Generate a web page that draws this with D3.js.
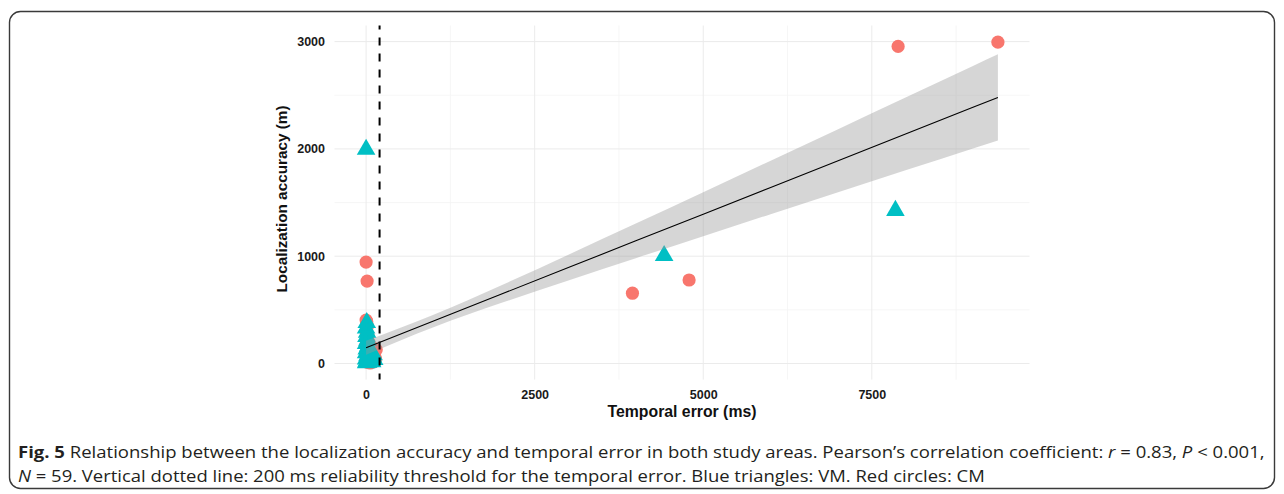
<!DOCTYPE html>
<html>
<head>
<meta charset="utf-8">
<script src="https://cdn.jsdelivr.net/npm/d3@7"></script>
<style>
  html, body { margin: 0; padding: 0; background: #ffffff; }
  svg { display: block; }
</style>
</head>
<body>
<script>
// ---------------- DATA ----------------
// Red circles: CM  [temporal error (ms), localization accuracy (m)]
const cmTemporal = [7890, 9370, 3950, 4790, 0, 15,
  0, 10, 20, 0, 30, 5, 40, 0, 60, 150, 120, 80, 10, 50, 100, 0, 30, 140, 70, 0, 20, 110, 60, 130, 90, 40];
const cmAccuracy = [2955, 2995, 655, 778, 945, 768,
  405, 390, 350, 300, 260, 230, 200, 170, 150, 128, 140, 110, 95, 80, 70, 55, 45, 40, 30, 20, 10, 15, 5, 60, 100, 25];
// Blue triangles: VM
const vmTemporal = [0, 4420, 7850,
  10, 0, 15, 5, 20, 0, 30, 10, 50, 0, 70, 20, 100, 40, 0, 120, 60, 10, 90, 30, 0, 80, 110, 45];
const vmAccuracy = [1995, 1005, 1425,
  380, 330, 290, 250, 215, 185, 160, 135, 115, 100, 85, 70, 60, 50, 40, 35, 25, 20, 15, 10, 5, 45, 80, 95];

// Linear fit with 95% confidence band
const fitTemporal = [0, 1000, 2000, 3000, 4000, 5000, 6000, 7000, 8000, 9000, 9370];
const fitValue    = [147, 396, 645, 894, 1143, 1392, 1641, 1890, 2139, 2388, 2480];
const fitLower    = [82, 338, 563, 774, 982, 1187, 1392, 1596, 1800, 2003, 2079];
const fitUpper    = [212, 454, 727, 1014, 1304, 1597, 1890, 2184, 2478, 2773, 2881];

const thresholdMs = 200;

const xTicks = [0, 2500, 5000, 7500];
const xMinorTicks = [1250, 3750, 6250, 8750];
const yTicks = [0, 1000, 2000, 3000];
const yMinorTicks = [500, 1500, 2500];

const xTitle = "Temporal error (ms)";
const yTitle = "Localization accuracy (m)";

// ---------------- CHART ----------------
const W = 1284, H = 494;
const svg = d3.select("body").append("svg").attr("width", W).attr("height", H);

svg.append("rect").attr("x", 0).attr("y", 0).attr("width", W).attr("height", H).attr("fill", "#fff");
// rounded frame
svg.append("rect").attr("x", 9.5).attr("y", 11.5).attr("width", 1265).attr("height", 477)
  .attr("rx", 11).attr("ry", 11).attr("fill", "none").attr("stroke", "#3a3a3a").attr("stroke-width", 1.4);

const panel = {left: 334.5, right: 1029.5, top: 25.5, bottom: 379.6};
const x = d3.scaleLinear().domain([-468.5, 9838.5]).range([panel.left, panel.right]);
const y = d3.scaleLinear().domain([-150, 3150]).range([panel.bottom, panel.top]);

const g = svg.append("g");

// minor grid
g.selectAll(".xminor").data(xMinorTicks).join("line")
  .attr("x1", d => x(d)).attr("x2", d => x(d)).attr("y1", panel.top).attr("y2", panel.bottom)
  .attr("stroke", "#f4f4f4").attr("stroke-width", 0.8);
g.selectAll(".yminor").data(yMinorTicks).join("line")
  .attr("y1", d => y(d)).attr("y2", d => y(d)).attr("x1", panel.left).attr("x2", panel.right)
  .attr("stroke", "#f4f4f4").attr("stroke-width", 0.8);
// major grid
g.selectAll(".xmajor").data(xTicks).join("line")
  .attr("x1", d => x(d)).attr("x2", d => x(d)).attr("y1", panel.top).attr("y2", panel.bottom)
  .attr("stroke", "#ebebeb").attr("stroke-width", 1);
g.selectAll(".ymajor").data(yTicks).join("line")
  .attr("y1", d => y(d)).attr("y2", d => y(d)).attr("x1", panel.left).attr("x2", panel.right)
  .attr("stroke", "#ebebeb").attr("stroke-width", 1);

// axes via d3 axis generators (domain & ticks hidden, labels only)
const fontAxis = "'Liberation Sans', Arial, Helvetica, sans-serif";
const xAxis = svg.append("g").attr("transform", `translate(0,${panel.bottom})`)
  .call(d3.axisBottom(x).tickValues(xTicks).tickSize(0).tickPadding(10.5).tickFormat(d3.format("d")));
const yAxis = svg.append("g").attr("transform", `translate(${panel.left},0)`)
  .call(d3.axisLeft(y).tickValues(yTicks).tickSize(0).tickPadding(9.5).tickFormat(d3.format("d")));
[xAxis, yAxis].forEach(a => {
  a.select(".domain").remove();
  a.selectAll("text").attr("font-family", fontAxis).attr("font-weight", "bold")
    .attr("font-size", "12.5px").attr("fill", "#1a1a1a");
});

// axis titles
svg.append("text").attr("x", x(4685)).attr("y", 416.5).attr("text-anchor", "middle")
  .attr("font-family", fontAxis).attr("font-weight", "bold").attr("font-size", "15.8px").attr("fill", "#111")
  .text(xTitle);
svg.append("text").attr("transform", `translate(286.5,199) rotate(-90)`)
  .attr("text-anchor", "middle")
  .attr("font-family", fontAxis).attr("font-weight", "bold").attr("font-size", "15.3px").attr("fill", "#111")
  .text(yTitle);

// points
const cm = cmTemporal.map((t, i) => ({t, a: cmAccuracy[i]}));
const vm = vmTemporal.map((t, i) => ({t, a: vmAccuracy[i]}));

g.selectAll(".cm").data(cm).join("circle")
  .attr("cx", d => x(d.t)).attr("cy", d => y(d.a)).attr("r", 6.6)
  .attr("fill", "#F8766D");

const tri = d3.symbol().type(d3.symbolTriangle).size(150);
g.selectAll(".vm").data(vm).join("path")
  .attr("d", tri)
  .attr("transform", d => `translate(${x(d.t)},${y(d.a)})`)
  .attr("fill", "#00BFC4");

// confidence band + fit line
const fit = fitTemporal.map((t, i) => ({t, v: fitValue[i], lo: fitLower[i], hi: fitUpper[i]}));
g.append("path").datum(fit)
  .attr("d", d3.area().x(d => x(d.t)).y0(d => y(d.lo)).y1(d => y(d.hi)).curve(d3.curveMonotoneX))
  .attr("fill", "#999999").attr("fill-opacity", 0.4);
g.append("path").datum(fit)
  .attr("d", d3.line().x(d => x(d.t)).y(d => y(d.v)))
  .attr("fill", "none").attr("stroke", "#000").attr("stroke-width", 1.1);

// threshold dashed line
g.append("line").attr("x1", x(thresholdMs)).attr("x2", x(thresholdMs))
  .attr("y1", panel.top).attr("y2", panel.bottom)
  .attr("stroke", "#000").attr("stroke-width", 2).attr("stroke-dasharray", "8,8").attr("stroke-dashoffset", 4);

// ---------------- CAPTION ----------------
const capFont = "'Open Sans', 'Noto Sans', sans-serif";
function caption(parts, baseline, targetWidth) {
  const t = svg.append("text").attr("font-family", capFont).attr("font-size", "16px").attr("fill", "#231f20")
    .attr("transform", `translate(18,${baseline})`);
  parts.forEach(p => {
    const s = t.append("tspan").text(p.s);
    if (p.b) s.attr("font-weight", "bold");
    if (p.i) s.attr("font-style", "italic");
  });
  const w = t.node().getComputedTextLength();
  t.attr("transform", `translate(18,${baseline}) scale(${targetWidth / w},1)`);
}
caption([
  {s: "Fig. 5", b: true},
  {s: " Relationship between the localization accuracy and temporal error in both study areas. Pearson’s correlation coefficient: "},
  {s: "r", i: true}, {s: " = 0.83, "}, {s: "P", i: true}, {s: " < 0.001,"}
], 458, 1248);
caption([
  {s: "N", i: true},
  {s: " = 59. Vertical dotted line: 200 ms reliability threshold for the temporal error. Blue triangles: VM. Red circles: CM"}
], 482, 967);
</script>
</body>
</html>
